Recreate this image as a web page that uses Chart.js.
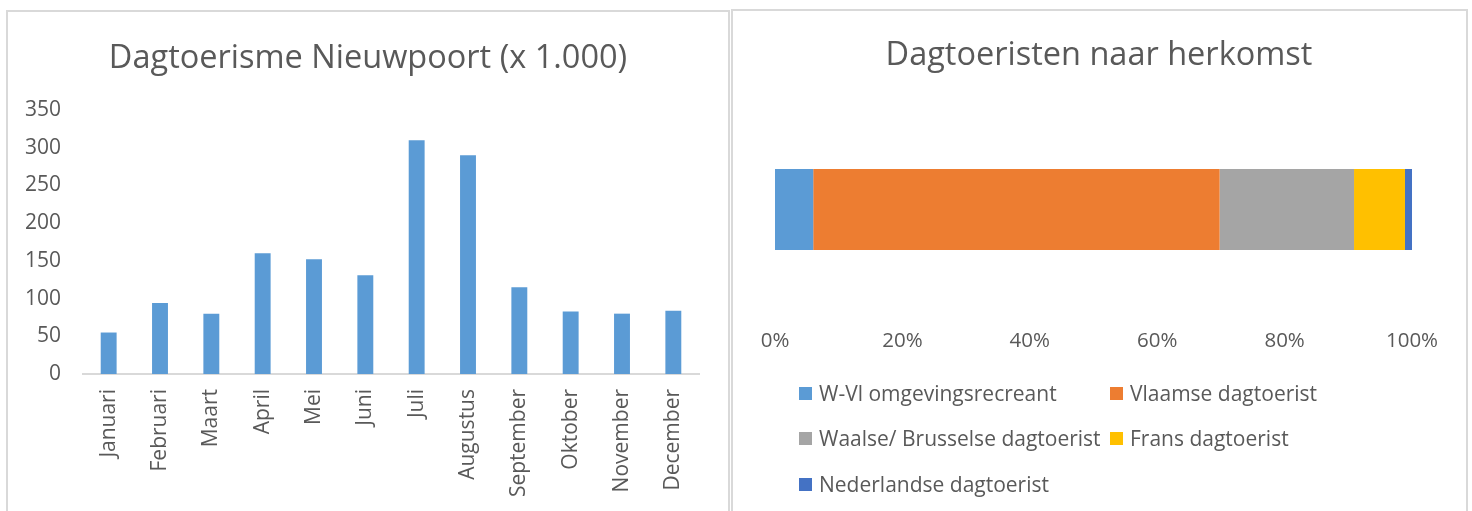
<!DOCTYPE html>
<html>
<head>
<meta charset="utf-8">
<script src="https://cdn.jsdelivr.net/npm/chart.js@4"></script>
<style>
  body{margin:0;background:#fff;width:1472px;height:511px;overflow:hidden;position:relative;font-family:'Open Sans',sans-serif;}
  .panel{position:absolute;border:2px solid #d9d9d9;box-sizing:border-box;}
  #p1{left:6px;top:10px;width:724px;height:530px;}
  #p2{left:731px;top:9px;width:737px;height:530px;}
  canvas{position:absolute;top:0;}
  #c1{left:0;}
  #c2{left:731px;}
  .li{position:absolute;font-size:21px;color:#595959;white-space:nowrap;line-height:24px;height:24px;}
  .li i{position:absolute;left:0;top:6px;width:13px;height:13px;}
  .li b{position:absolute;left:20px;top:0;font-weight:normal;}
</style>
</head>
<body>
<div class="panel" id="p1"></div>
<div class="panel" id="p2"></div>
<canvas id="c1" width="736" height="511"></canvas>
<canvas id="c2" width="736" height="511"></canvas>
<div id="legend"></div>
<script>
// ---- Data ----
const months = ['Januari','Februari','Maart','April','Mei','Juni','Juli','Augustus','September','Oktober','November','December'];
const visitors = [55, 94, 80, 160, 152, 131, 310, 290, 115, 83, 80, 84];

const origins = ['W-Vl omgevingsrecreant','Vlaamse dagtoerist','Waalse/ Brusselse dagtoerist','Frans dagtoerist','Nederlandse dagtoerist'];
const shares = [6.0, 63.8, 21.1, 8.0, 1.1];
const originColors = ['#5b9bd5','#ed7d31','#a5a5a5','#ffc000','#4472c4'];

const textColor = '#595959';
Chart.defaults.font.family = "'Open Sans', sans-serif";

// spacer axis that only reserves room on the right of the plot
const spacer = (w) => ({
  display: true, position: 'right',
  grid: { display: false, drawTicks: false }, border: { display: false },
  ticks: { display: false },
  afterFit(s) { s.width = w; }
});

// ---- Left chart ----
new Chart(document.getElementById('c1'), {
  type: 'bar',
  data: {
    labels: months,
    datasets: [{ data: visitors, backgroundColor: '#5b9bd5', barPercentage: 0.31, categoryPercentage: 1 }]
  },
  options: {
    responsive: false, animation: false, devicePixelRatio: 1,
    layout: { padding: 0 },
    plugins: {
      legend: { display: false }, tooltip: { enabled: false },
      title: { display: true, text: 'Dagtoerisme Nieuwpoort (x 1.000)', color: textColor,
               font: { size: 32.5, weight: 'normal' }, padding: { top: 39, bottom: 32 } }
    },
    scales: {
      x: {
        grid: { display: false, drawTicks: false },
        border: { display: true, color: '#d9d9d9', width: 2 },
        ticks: { color: textColor, font: { size: 21 }, minRotation: 90, maxRotation: 90, padding: 15, autoSkip: false },
        afterFit(s) { s.height = 137; }
      },
      y: {
        min: 0, max: 350,
        grid: { display: false, drawTicks: false },
        border: { display: false },
        ticks: { stepSize: 50, color: textColor, font: { size: 21 }, padding: 22 },
        afterFit(s) { s.width = 83; }
      },
      yRight: spacer(37)
    }
  }
});

// ---- Right chart ----
const chart2 = new Chart(document.getElementById('c2'), {
  type: 'bar',
  data: {
    labels: [''],
    datasets: origins.map((o, i) => ({
      label: o, data: [shares[i]], backgroundColor: originColors[i],
      barPercentage: 0.407, categoryPercentage: 1
    }))
  },
  options: {
    indexAxis: 'y',
    responsive: false, animation: false, devicePixelRatio: 1,
    layout: { padding: { left: 0, right: 0, top: 0, bottom: 157 } },
    plugins: {
      legend: { display: false }, tooltip: { enabled: false },
      title: { display: true, text: 'Dagtoeristen naar herkomst', color: textColor,
               font: { size: 32.5, weight: 'normal' }, padding: { top: 36, bottom: 35 } }
    },
    scales: {
      x: {
        stacked: true, min: 0, max: 100,
        grid: { display: false, drawTicks: false },
        border: { display: false },
        ticks: { stepSize: 20, callback: v => v + '%', color: textColor, font: { size: 20.5 }, padding: 20 },
        afterFit(s) { s.height = 45; }
      },
      y: {
        stacked: true, display: true,
        grid: { display: false, drawTicks: false }, border: { display: false },
        ticks: { display: false },
        afterFit(s) { s.width = 44; }
      },
      yRight: spacer(55)
    }
  }
});

// ---- HTML legend (grid like the original) ----
const legend = document.getElementById('legend');
const colX = [799, 1110];
const rowY = [381, 426, 472];
chart2.data.datasets.forEach((ds, i) => {
  const d = document.createElement('div');
  d.className = 'li';
  d.style.left = colX[i % 2] + 'px';
  d.style.top = rowY[Math.floor(i / 2)] + 'px';
  const sw = document.createElement('i');
  sw.style.background = ds.backgroundColor;
  const t = document.createElement('b');
  t.textContent = ds.label;
  d.appendChild(sw); d.appendChild(t);
  legend.appendChild(d);
});
</script>
</body>
</html>
